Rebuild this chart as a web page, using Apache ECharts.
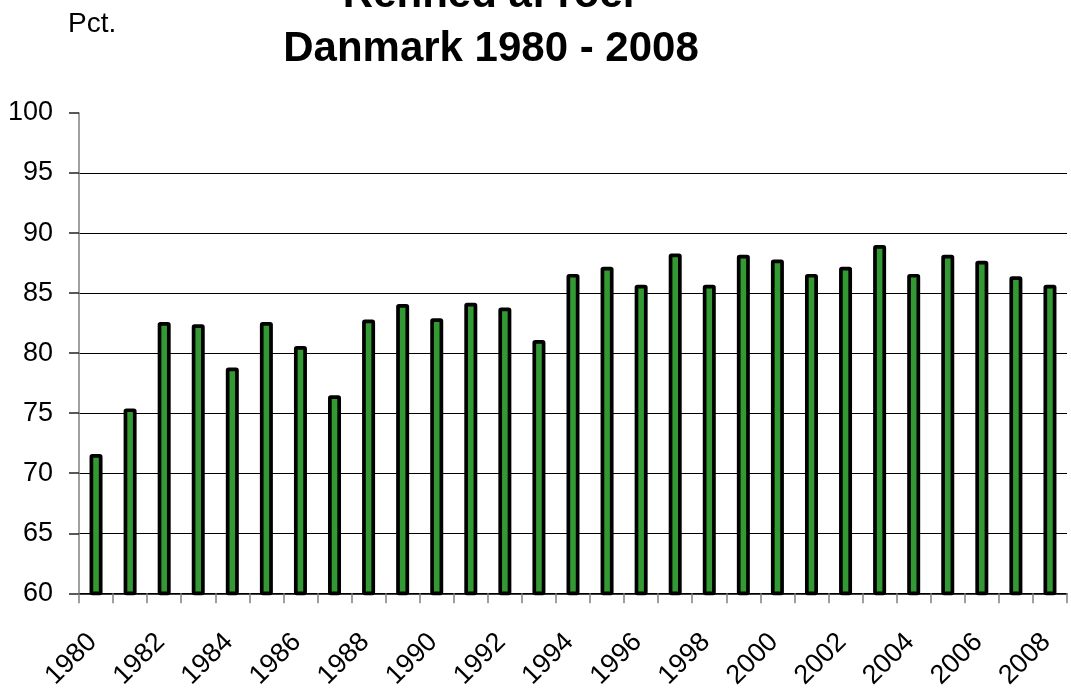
<!DOCTYPE html>
<html>
<head>
<meta charset="utf-8">
<script src="https://cdn.jsdelivr.net/npm/echarts@6/dist/echarts.min.js"></script>
<style>
html,body{margin:0;padding:0;background:#fff;}
#chart{width:1071px;height:692px;}
</style>
</head>
<body>
<div id="chart"></div>
<script>
const titleLine1 = 'Renhed af roer';
const titleLine2 = 'Danmark 1980 - 2008';
const unitLabel = 'Pct.';
const years = ['1980','1981','1982','1983','1984','1985','1986','1987','1988','1989',
  '1990','1991','1992','1993','1994','1995','1996','1997','1998','1999',
  '2000','2001','2002','2003','2004','2005','2006','2007','2008'];
const purity = [71.6, 75.4, 82.6, 82.4, 78.8, 82.6, 80.6, 76.5, 82.8, 84.1,
  82.9, 84.2, 83.8, 81.1, 86.6, 87.2, 85.7, 88.3, 85.7, 88.2,
  87.8, 86.6, 87.2, 89.0, 86.6, 88.2, 87.7, 86.4, 85.7];
const yMin = 60, yMax = 100, yStep = 5;

const FONT = '"Liberation Sans", Arial, sans-serif';
const chart = echarts.init(document.getElementById('chart'), null, {renderer: 'canvas'});
chart.setOption({
  animation: false,
  backgroundColor: '#ffffff',
  title: [
    {text: titleLine1, left: 491, textAlign: 'center', top: -26, padding: 0,
     textStyle: {fontFamily: FONT, fontSize: 42, fontWeight: 'bold', color: '#000'}},
    {text: titleLine2, left: 491, textAlign: 'center', top: 28, padding: 0,
     textStyle: {fontFamily: FONT, fontSize: 42, fontWeight: 'bold', color: '#000'}},
    {text: unitLabel, left: 68, top: 10, padding: 0,
     textStyle: {fontFamily: FONT, fontSize: 28, fontWeight: 'normal', color: '#000'}}
  ],
  grid: {left: 79, right: 4, top: 113, bottom: 96, containLabel: false},
  xAxis: {
    type: 'category',
    data: years,
    boundaryGap: true,
    axisLine: {show: true, lineStyle: {color: '#000', width: 1.5}},
    axisTick: {show: true, interval: 0, length: 10, lineStyle: {color: '#808080', width: 1.5}},
    axisLabel: {interval: 1, rotate: 45, margin: 41, align: 'right', verticalAlign: 'middle',
      padding: [0, 5, 0, 0],
      fontFamily: FONT, fontSize: 27, color: '#000'},
    splitLine: {show: false}
  },
  yAxis: {
    type: 'value',
    min: yMin, max: yMax, interval: yStep,
    axisLine: {show: true, lineStyle: {color: '#808080', width: 1.5}},
    axisTick: {show: true, length: 10, lineStyle: {color: '#222', width: 1.5}},
    axisLabel: {margin: 26, fontFamily: FONT, fontSize: 27, color: '#000'},
    splitLine: {show: true, showMaxLine: false, lineStyle: {color: '#000', width: 1.2}}
  },
  series: [{
    type: 'bar',
    data: purity,
    barWidth: 13,
    itemStyle: {color: '#339933', borderColor: '#000', borderWidth: 3.7, borderRadius: 1}
  }]
});
</script>
</body>
</html>
